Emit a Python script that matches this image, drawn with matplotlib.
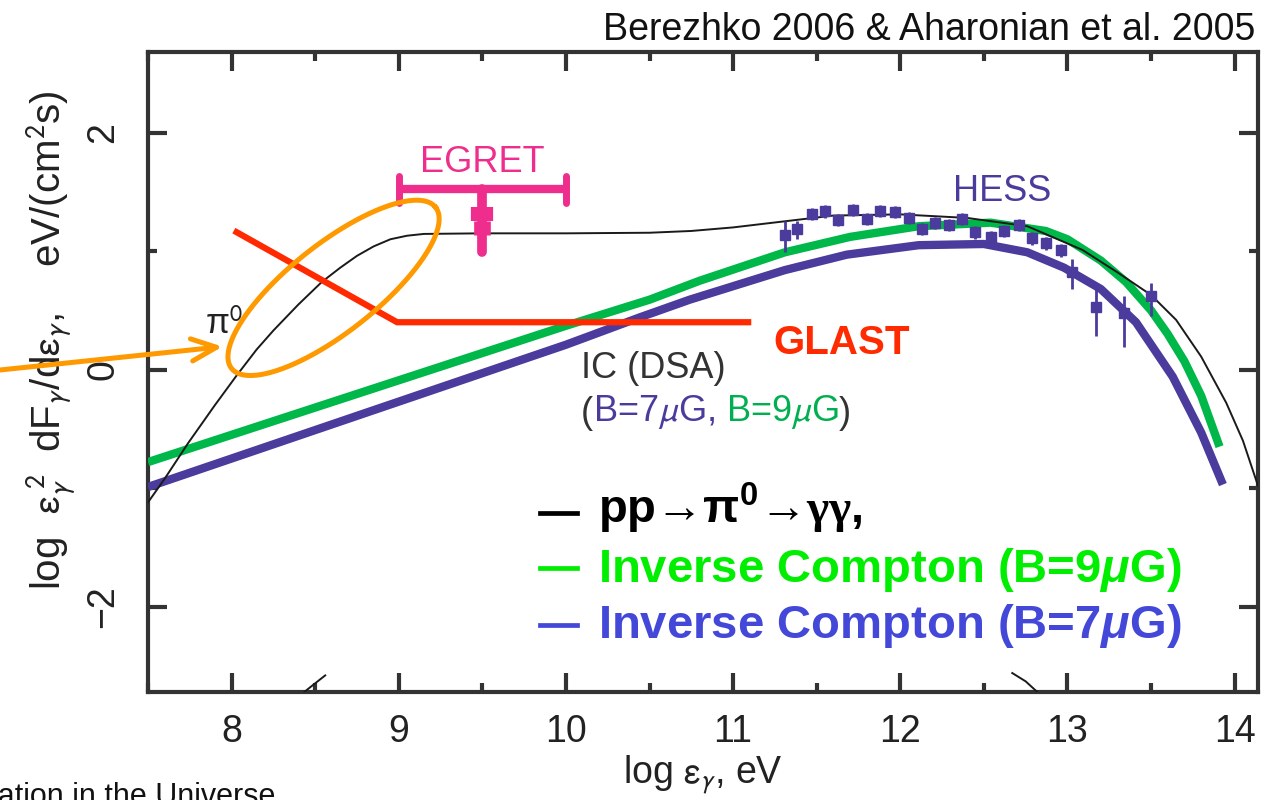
import numpy as np
import matplotlib
matplotlib.use("Agg")
import matplotlib.pyplot as plt

plt.rcParams['font.family'] = ['Liberation Sans', 'DejaVu Sans']
plt.rcParams['mathtext.fontset'] = 'custom'
plt.rcParams['mathtext.rm'] = 'Liberation Sans'
plt.rcParams['mathtext.it'] = 'Liberation Sans:italic:bold'
plt.rcParams['mathtext.bf'] = 'Liberation Sans:bold'
plt.rcParams['mathtext.sf'] = 'Liberation Serif:bold'

# ---------------- data ----------------
pi0_x = [7.50, 7.60, 7.74, 7.90, 8.03, 8.15, 8.25, 8.40, 8.54, 8.65, 8.75, 8.85,
         8.95, 9.05, 9.15, 9.50, 10.00, 10.50, 10.75, 11.00, 11.30, 11.60, 12.00,
         12.40, 12.76, 13.09, 13.30, 13.50, 13.65, 13.80, 13.95, 14.05, 14.14]
pi0_y = [-1.12, -0.92, -0.62, -0.30, -0.05, 0.17, 0.33, 0.55, 0.74, 0.86, 0.96, 1.04,
         1.10, 1.13, 1.145, 1.15, 1.15, 1.155, 1.17, 1.20, 1.25, 1.30, 1.31,
         1.28, 1.21, 1.01, 0.82, 0.63, 0.42, 0.11, -0.28, -0.60, -0.98]

ic9_x = [7.50, 8.00, 8.50, 9.00, 9.50, 10.00, 10.50, 10.80, 11.31, 11.70, 12.11,
         12.54, 12.87, 13.00, 13.20, 13.35, 13.50, 13.60, 13.70, 13.80, 13.91]
ic9_y = [-0.78, -0.55, -0.32, -0.09, 0.14, 0.37, 0.59, 0.75, 0.99, 1.12, 1.21,
         1.24, 1.17, 1.10, 0.92, 0.74, 0.50, 0.30, 0.07, -0.22, -0.65]

ic7_x = [7.50, 8.00, 8.50, 9.00, 9.50, 10.00, 10.44, 10.74, 11.31, 11.68, 12.11,
         12.50, 12.76, 12.98, 13.20, 13.41, 13.63, 13.80, 13.93]
ic7_y = [-0.99, -0.75, -0.51, -0.27, -0.03, 0.21, 0.44, 0.59, 0.84, 0.97, 1.05,
         1.06, 0.99, 0.86, 0.68, 0.40, -0.06, -0.53, -0.97]

hess_x = [11.31, 11.38, 11.47, 11.55, 11.63, 11.72, 11.80, 11.88, 11.97, 12.05,
          12.13, 12.21, 12.29, 12.37, 12.45, 12.54, 12.62, 12.71, 12.79, 12.87,
          12.96, 13.03, 13.17, 13.34, 13.50]
hess_y = [1.14, 1.19, 1.31, 1.34, 1.26, 1.35, 1.27, 1.34, 1.33, 1.28,
          1.19, 1.24, 1.22, 1.27, 1.16, 1.12, 1.17, 1.22, 1.11, 1.07,
          1.01, 0.82, 0.53, 0.48, 0.62]
hess_err_lo = [0.15, 0.09, 0.05, 0.06, 0.05, 0.05, 0.05, 0.05, 0.05, 0.05,
               0.05, 0.05, 0.05, 0.05, 0.06, 0.06, 0.05, 0.05, 0.06, 0.06,
               0.06, 0.14, 0.25, 0.29, 0.17]
hess_err_hi = [0.11, 0.06, 0.05, 0.05, 0.05, 0.05, 0.05, 0.05, 0.05, 0.05,
               0.05, 0.05, 0.05, 0.05, 0.05, 0.05, 0.05, 0.05, 0.05, 0.05,
               0.05, 0.11, 0.17, 0.14, 0.11]

egret_x = [9.0, 10.0]
egret_y = 1.52
egret_ul_x = 9.5
egret_ul_bottom = 0.99

glast_x = [8.03, 8.99, 11.09]
glast_y = [1.16, 0.40, 0.40]

frag1_x = [8.40, 8.47, 8.56]
frag1_y = [-2.76, -2.68, -2.58]
frag2_x = [12.67, 12.75, 12.82]
frag2_y = [-2.56, -2.63, -2.72]

ellipse_center = (8.61, 0.69)

xticks_major = [8, 9, 10, 11, 12, 13, 14]
yticks_major = [-2, 0, 2]

# ---------------- figure ----------------
W, H = 1273, 800
fig = plt.figure(figsize=(W / 100, H / 100), dpi=100)
ax = fig.add_axes([148 / W, 1 - 692 / H, (1258 - 148) / W, (692 - 52) / H])
xmin, xmax, ymin, ymax = 7.5, 14.14, -2.72, 2.68
ax.set_xlim(xmin, xmax)
ax.set_ylim(ymin, ymax)

frame_c = '#333333'
for s in ax.spines.values():
    s.set_linewidth(3)
    s.set_color(frame_c)

ax.set_xticks(xticks_major)
ax.set_xticks(np.arange(7.5, 14.2, 0.5), minor=True)
ax.set_yticks(yticks_major)
ax.set_yticks([-1, 1], minor=True)
ax.set_xticklabels([str(v) for v in xticks_major])
ax.set_yticklabels(['\u22122' if v < 0 else str(v) for v in yticks_major], rotation=90, va='center')
ax.tick_params(which='both', direction='in', top=True, right=True, color=frame_c, width=3)
ax.tick_params(which='major', length=14)
ax.tick_params(which='minor', length=6.5)
ax.tick_params(axis='x', which='major', labelsize=27, labelcolor='#222222', pad=16)
ax.tick_params(axis='y', which='major', labelsize=27, labelcolor='#222222', pad=19)

ax.set_xlabel(r'log $\mathrm{\epsilon}_{\gamma}$, eV', fontsize=27, color='#222222',
              math_fontfamily='stixsans')
ax.xaxis.set_label_coords(0.5, -0.097)
ax.set_ylabel(r'log  $\mathrm{\epsilon}_{\gamma}^{\ 2}$  dF$_{\gamma}$/d$\mathrm{\epsilon}_{\gamma}$,    eV/(cm$^{2}$s)',
              fontsize=29, color='#222222', math_fontfamily='stixsans')
ax.yaxis.set_label_coords(-0.064, 0.55)

# curves
ax.plot(ic9_x, ic9_y, color='#00b84a', lw=6, solid_capstyle='butt', zorder=3)
ax.plot(ic7_x, ic7_y, color='#4a3b9c', lw=6, solid_capstyle='butt', zorder=3)
ax.plot(pi0_x, pi0_y, color='#1a1a1a', lw=1.4, zorder=4)
ax.plot(frag1_x, frag1_y, color='#1a1a1a', lw=1.4, zorder=4)
ax.plot(frag2_x, frag2_y, color='#1a1a1a', lw=1.4, zorder=4)

# HESS points
ax.errorbar(hess_x, hess_y, yerr=[hess_err_lo, hess_err_hi], fmt='s', color='#4a3b9c',
            ms=7, elinewidth=2, capsize=0, zorder=5)

# EGRET upper limit
eg_c = '#ee2d8c'
ax.plot(egret_x, [egret_y, egret_y], color=eg_c, lw=6, solid_capstyle='butt', zorder=5)
for xv in egret_x:
    ax.plot([xv, xv], [egret_y - 0.11, egret_y + 0.11], color=eg_c, lw=5,
            solid_capstyle='round', zorder=5)
ax.plot([egret_ul_x, egret_ul_x], [egret_y, egret_ul_bottom], color=eg_c, lw=7,
        solid_capstyle='round', zorder=5)
ax.plot([egret_ul_x, egret_ul_x], [egret_y - 0.15, egret_y - 0.27], color=eg_c, lw=16,
        solid_capstyle='butt', zorder=5)
ax.plot([egret_ul_x, egret_ul_x], [egret_y - 0.27, egret_y - 0.38], color=eg_c, lw=12,
        solid_capstyle='butt', zorder=5)
ax.text(egret_ul_x, 1.67, 'EGRET', color=eg_c, fontsize=26, ha='center', va='baseline')

# GLAST
ax.plot(glast_x, glast_y, color='#ff2a00', lw=4.5, solid_joinstyle='miter', zorder=6)
ax.text(11.24, 0.135, 'GLAST', color='#ff2a00', fontsize=29, fontweight='bold',
        ha='left', va='baseline')

# Orange ellipse (drawn in pixel space)
ax_w_px = (1258 - 148)
ax_h_px = (692 - 52)
sx = ax_w_px / (xmax - xmin)
sy = ax_h_px / (ymax - ymin)
t = np.linspace(0, 2 * np.pi, 300)
a_px, b_px, th = 130, 44, np.deg2rad(38.3)
ex = ellipse_center[0] + (a_px * np.cos(t) * np.cos(th) - b_px * np.sin(t) * np.sin(th)) / sx
ey = ellipse_center[1] + (a_px * np.cos(t) * np.sin(th) + b_px * np.sin(t) * np.cos(th)) / sy
ax.plot(ex, ey, color='#ff9900', lw=3.6, zorder=7)

# Orange arrow from the left figure edge
ax.annotate('', xy=(7.946, 0.194), xycoords='data',
            xytext=(0.0, 1 - 370 / H), textcoords='figure fraction',
            arrowprops=dict(arrowstyle='->,head_length=1.8,head_width=0.8', color='#ff9900',
                            lw=3.6, shrinkA=0, shrinkB=0, mutation_scale=10),
            annotation_clip=False, zorder=8)

# labels
ax.text(7.84, 0.30, '\u03c0$^{0}$', fontsize=25, color='#222222', ha='left', va='baseline',
        math_fontfamily='stixsans')
ax.text(12.61, 1.42, 'HESS', fontsize=26, color='#4a3b9c', ha='center', va='baseline')
ax.text(10.09, -0.07, 'IC (DSA)', fontsize=26, color='#333333', ha='left', va='baseline')

pieces = [('(', '#333333'), (r'B=7$\mu$G,', '#4a3b9c'), (r' B=9$\mu$G', '#00b050'), (')', '#333333')]
prev = ax.text(10.09, -0.45, pieces[0][0], fontsize=26, color=pieces[0][1], ha='left',
               va='baseline', math_fontfamily='stixsans')
for s, c in pieces[1:]:
    prev = ax.annotate(s, xy=(1, 0), xycoords=prev, va='bottom', ha='left', fontsize=26,
                       color=c, math_fontfamily='stixsans')

# legend-like text block
leg_items = [('pp\u2192\u03c0$^{\\mathbf{0}}$\u2192$\\mathsf{\\gamma\\gamma}$,', '#000000', 0.264, 0.280),
             (r'Inverse Compton (B=9$\mu$G)', '#00ee00', 0.172, 0.194),
             (r'Inverse Compton (B=7$\mu$G)', '#4448d8', 0.084, 0.105)]
for s, c, yb, yd in leg_items:
    ax.plot([0.353, 0.3865], [yd, yd], color=c, lw=3.4, transform=ax.transAxes, clip_on=False)
    ax.text(0.405, yb, s, transform=ax.transAxes, fontsize=34, fontweight='bold', color=c,
            ha='left', va='baseline')

# title and cut caption
fig.text(1255 / W, 1 - 40 / H, 'Berezhko 2006 & Aharonian et al. 2005', fontsize=27,
         ha='right', va='baseline', color='#111111')
fig.text(275 / W, -5 / H, 'Particle Acceleration in the Universe', fontsize=22,
         ha='right', va='baseline', color='#111111')

fig.savefig('out.png', dpi=100)
